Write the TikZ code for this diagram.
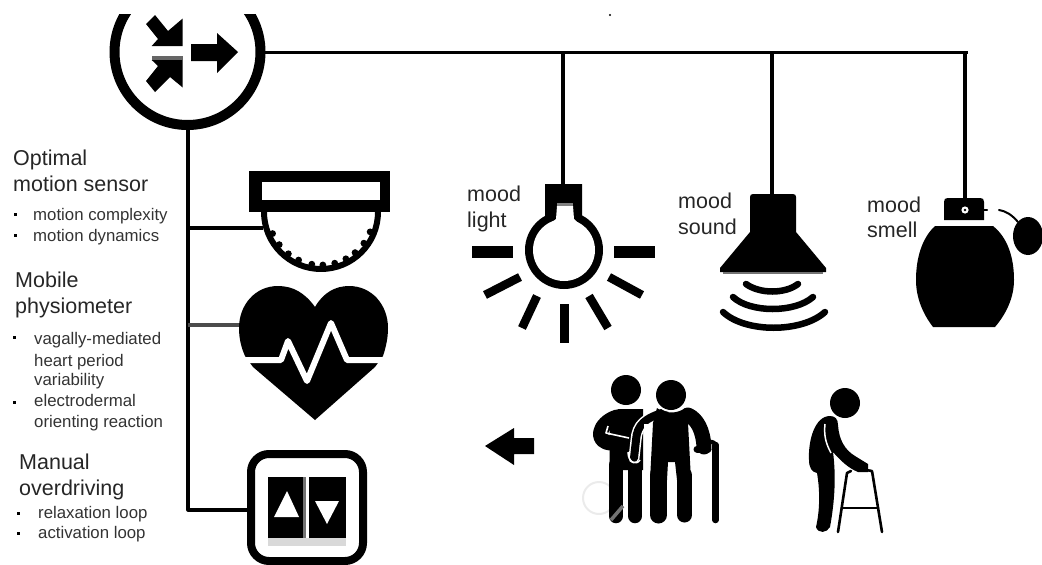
\documentclass[tikz,border=0pt]{standalone}
\usepackage{fontspec}
\setmainfont{Liberation Sans}
\newcommand{\bigtxt}{\fontsize{21.5}{21.5}\selectfont}
\newcommand{\smalltxt}{\fontsize{16.8}{16.8}\selectfont}
\newcommand{\moodtxt}{\fontsize{21.5}{21.5}\selectfont}
\tikzset{
  head/.style={anchor=base west,inner sep=0pt,text=black!85,font=\bigtxt},
  item/.style={anchor=base west,inner sep=0pt,text=black!80,font=\smalltxt},
  mood/.style={anchor=base west,inner sep=0pt,text=black!85,font=\moodtxt},
  conn/.style={draw=black,line width=3.2pt},
  ico/.style={fill=black,draw=none},
  ray/.style={draw=black,line width=8.5pt},
  wave/.style={draw=black,line width=6.5pt,line cap=round},
  limb/.style={draw=black,line cap=round,line join=round},
  dotb/.style={fill=black,draw=none}
}
\begin{document}
\begin{tikzpicture}[x=1pt,y=-1pt,line join=round]
\useasboundingbox (0,0) rectangle (1042,565);
% connector anchors
\coordinate (hubE) at (265,52.5);
\coordinate (hubS) at (188,130);
\coordinate (busEnd) at (968,52.5);
\coordinate (busL) at (563,52.5);
\coordinate (busS) at (772,52.5);
\coordinate (busM) at (965,52.5);
\coordinate (lightTop) at (563,186);
\coordinate (soundTop) at (772,195);
\coordinate (smellTop) at (965,199);
\coordinate (trunkEnd) at (188,510);
\coordinate (trunkA) at (188,228);
\coordinate (trunkB) at (188,325);
\coordinate (sensorW) at (263,228);
\coordinate (heartW) at (241,325);
\coordinate (buttonW) at (249,510);
\draw[conn] (hubE) -- (busEnd);
\draw[conn] (busL) -- (lightTop);
\draw[conn] (busS) -- (soundTop);
\draw[conn] (busM) -- (smellTop);
\draw[conn] (hubS) -- (trunkEnd) -- (buttonW);
\draw[conn] (trunkA) -- (sensorW);
\draw[conn,draw=black!70] (trunkB) -- (heartW);
% hub
\begin{scope}
\clip (90,14) rectangle (290,140);
\draw[line width=10pt] (187.5,52) circle[radius=73];
\fill[white] (131,0) rectangle (243,40);
\end{scope}
\fill[ico] (182.7,18.5) -- (182.7,46) -- (151.7,46) -- (158,39) -- (146,24) -- (155,15) -- (168,31) -- cycle;
\fill[black!60] (151.7,56) rectangle (182.7,60);
\fill[ico] (182.7,87.5) -- (182.7,60) -- (151.7,60) -- (158,66) -- (146,81) -- (155,92) -- (170,77) -- cycle;
\fill[ico] (191,44) -- (217,44) -- (217,33) -- (238,52) -- (217,73) -- (217,61) -- (191,61) -- cycle;
% sensor
\fill[ico] (249,171) rectangle (390,212);
\fill[white] (262,182) rectangle (380,200);
\begin{scope}
\clip (255,212) rectangle (390,280);
\draw[line width=6pt] (321,212) circle[radius=57];
\foreach \a in {22,36,50,62,75,88,100,115,128,142,156}
  \fill ({321+53*cos(\a)},{212+53*sin(\a)}) circle[radius=3.4];
\end{scope}
% heart
\fill[ico] (315,307) .. controls (305,293) and (293,286) .. (278,286)
  .. controls (255,286) and (239,305) .. (239,328)
  .. controls (239,338) and (241,347) .. (245,356)
  -- (253,367) -- (315,420) -- (375,367) -- (383,356)
  .. controls (386,347) and (388,338) .. (388,328)
  .. controls (388,305) and (372,286) .. (349,286)
  .. controls (335,286) and (323,293) .. (315,307) -- cycle;
\draw[white,line width=6pt] (232,360) -- (281,360) -- (288,341) -- (307,381) -- (331,323) -- (347,360) -- (395,360);
% button
\begin{scope}
\clip (240,440) rectangle (375,565);
\fill[black!15] (268,538) rectangle (346,546);
\draw[line width=8pt,rounded corners=18pt] (251,454) rectangle (363,561);
\end{scope}
\fill[ico] (268,477) rectangle (303,538);
\fill[ico] (309,477) rectangle (346,538);
\fill[black!55] (303,477) rectangle (306,538);
\fill[white] (287,491) -- (274,517) -- (299,517) -- cycle;
\fill[white] (315,501) -- (339,501) -- (327,524) -- cycle;
% texts left
\node[head] (t1) at (13,165) {Optimal};
\node[head] (t2) at (13,191) {motion sensor};
\node[item] (t3) at (33,220) {motion complexity};
\node[item] (t4) at (33,241) {motion dynamics};
\node[head] (t5) at (15,287) {Mobile};
\node[head] (t6) at (15,313) {physiometer};
\node[item] (t7) at (34,344) {vagally-mediated};
\node[item] (t8) at (34,366) {heart period};
\node[item] (t9) at (34,385) {variability};
\node[item] (t10) at (34,406) {electrodermal};
\node[item] (t11) at (34,427) {orienting reaction};
\node[head] (t12) at (19,469) {Manual};
\node[head] (t13) at (19,495) {overdriving};
\node[item] (t14) at (38,518) {relaxation loop};
\node[item] (t15) at (38,538) {activation loop};
\foreach \x/\y in {15/214,15/235,14/337,14/402,18/513,18/533}
  \fill[dotb] (\x-1.5,\y-1.5) rectangle (\x+1.5,\y+1.5);
% light
\fill[ico] (564,250) circle[radius=39];
\fill[ico] (545,184) -- (582,184) -- (582,217) -- (598,232) -- (530,232) -- (545,217) -- cycle;
\fill[white] (564,250) circle[radius=31];
\fill[white] (557,206) -- (573,206) -- (574,219) -- (585,230) -- (543,230) -- (556,219) -- cycle;
\fill[black!50] (557,203) rectangle (573,206);
\fill[ico] (472,246) rectangle (513,258);
\fill[ico] (614,246) rectangle (655,258);
\fill[ico] (560,304) rectangle (569,343);
\draw[ray] (485,295) -- (520,277);
\draw[ray] (522,328) -- (537,296);
\draw[ray] (589,296) -- (608,328);
\draw[ray] (609,277) -- (642,295);
\node[mood] (m1) at (467,201) {mood};
\node[mood] (m2) at (467,227) {light};
% sound
\fill[ico] (750,197) .. controls (750,195) and (751,194) .. (753,194) -- (793,194) .. controls (795,194) and (796,195) .. (796,197)
  -- (796,232) -- (826,268) -- (826,272) -- (720,272) -- (720,268) -- (750,232) -- cycle;
\fill[black!55] (723,272) rectangle (823,274);
\draw[wave] (746,284) .. controls (760,294) and (785,294) .. (798,284);
\draw[wave] (733,297) .. controls (750,313) and (795,313) .. (813,297);
\draw[wave] (723,312) .. controls (745,333) and (802,333) .. (825,312);
\node[mood] (m3) at (678,208) {mood};
\node[mood] (m4) at (678,234) {sound};
% smell
\fill[ico] (944,202) .. controls (944,199) and (945,198) .. (948,198) -- (980,198) .. controls (983,198) and (984,199) .. (984,202) -- (984,220) -- (944,220) -- cycle;
\fill[white] (965,210) circle[radius=3.6];
\fill[black] (965,210) circle[radius=1.4];
\fill[ico] (935,226) -- (993,226) .. controls (1008,238) and (1014,258) .. (1014,280)
  .. controls (1014,298) and (1006,314) .. (995,327) -- (933,327)
  .. controls (923,314) and (916,298) .. (916,280) .. controls (916,258) and (922,238) .. (935,226) -- cycle;
\fill[ico] (1028,236) ellipse[x radius=15,y radius=19];
\draw[limb,line width=2pt] (984,210) -- (987,210);
\draw[limb,line width=2pt] (999,210) .. controls (1006,211) and (1012,215) .. (1018,222);
\node[mood] (m5) at (867,212) {mood};
\node[mood] (m6) at (867,237) {smell};
% arrow
\fill[ico] (485,446) -- (514,428) -- (514,438) -- (534,438) -- (534,454) -- (514,454) -- (514,465) -- cycle;
% watermark
\draw[black!8,line width=2pt] (599,498) circle[radius=16];
% helper
\fill[ico] (626,390) circle[radius=15];
\fill[ico] (618,409) -- (643,409) -- (643,470) -- (609.5,470) -- (609.5,425) -- cycle;
\draw[limb,line width=14.5pt] (616,516) -- (616,465);
\draw[limb,line width=14.5pt] (635,516) -- (635,465);
\draw[black!55,line width=3.5pt] (611,520) -- (623,506);
\draw[limb,line width=15pt] (617,417) .. controls (598,423) and (594,443) .. (612,443) -- (630,443);
\draw[white,line width=1.6pt] (608,426) -- (606,433) -- (629,438);
% elder with cane: arm, body
\draw[white,line width=11pt,line cap=round] (665,412) .. controls (645,418) and (637,425) .. (636,440) -- (634,458);
\draw[limb,line width=8pt] (665,412) .. controls (645,418) and (637,425) .. (636,440) -- (634,458);
\draw[white,line width=1.5pt] (628,452) .. controls (628,462) and (636,466) .. (640,460);
\fill[white] (644,424) -- (653,424) -- (649,470) -- (644,470) -- cycle;
\fill[white] (671,395) circle[radius=17];
\fill[ico] (671,395) circle[radius=15];
\fill[ico] (657,408) .. controls (664,414) and (678,414) .. (685,408) -- (690,409) -- (688,423) -- (691,480) -- (677,480) -- (675,462) -- (668,462) -- (667,480) -- (650,480) -- (653,423) -- cycle;
\draw[limb,line width=17pt] (658.5,515) -- (658.5,475);
\draw[limb,line width=15pt] (684.5,515) -- (684.5,475);
\draw[limb,line width=15pt] (688,415) .. controls (697,419) and (703,430) .. (704,447);
\draw[limb,line width=7pt] (697,449) -- (708,449);
\draw[limb,line width=6.5pt] (715.5,445) -- (715.5,520);
\draw[limb,line width=4pt] (708,444) .. controls (710,441) and (714,441) .. (715.5,445);
% elder with walker
\fill[ico] (845,403) circle[radius=15];
\fill[ico] (830,416) .. controls (835,416) and (838,419) .. (838,425) .. controls (839,440) and (845,450) .. (855,456) -- (868,464) -- (868,472) -- (858,472) .. controls (848,468) and (840,460) .. (833,452) .. controls (836,475) and (835,500) .. (830,527) .. controls (827,533) and (818,534) .. (816,527) .. controls (820,510) and (820,490) .. (817,473) .. controls (812,472) and (809,468) .. (809,460) .. controls (808,440) and (815,416) .. (830,416) -- cycle;
\draw[white,line width=1.5pt] (825,424) .. controls (824,434) and (825,442) .. (831,453);
\draw[limb,line width=2.6pt] (838,532) -- (847,473) -- (851,471);
\draw[limb,line width=2.6pt] (866,470) -- (872,471) -- (882,532);
\draw[limb,line width=2.6pt] (842,508) -- (878,508);
% stray mark
\fill[dotb] (610,15) circle[radius=1.2];
\end{tikzpicture}
\end{document}
